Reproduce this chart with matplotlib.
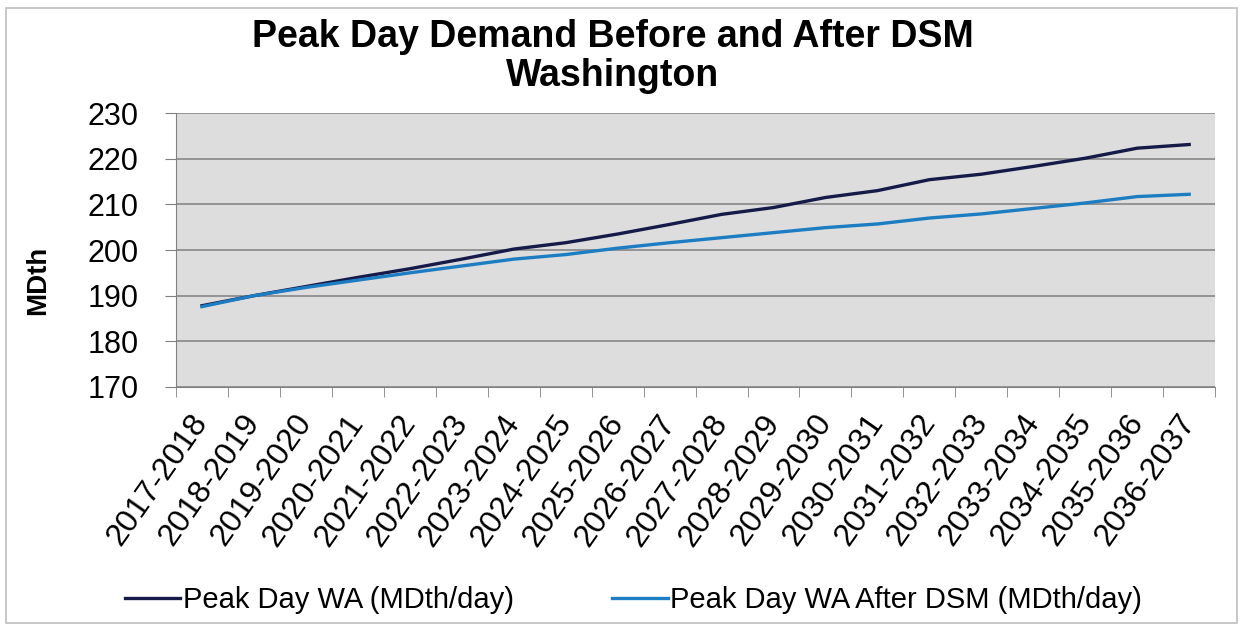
import numpy as np
import matplotlib.pyplot as plt
from matplotlib.patches import Rectangle

plt.rcParams['font.family'] = ['Liberation Sans', 'DejaVu Sans']

years = ['2017-2018', '2018-2019', '2019-2020', '2020-2021', '2021-2022',
         '2022-2023', '2023-2024', '2024-2025', '2025-2026', '2026-2027',
         '2027-2028', '2028-2029', '2029-2030', '2030-2031', '2031-2032',
         '2032-2033', '2033-2034', '2034-2035', '2035-2036', '2036-2037']
peak_wa = [187.8, 190.0, 192.0, 194.0, 195.9, 198.0, 200.2, 201.6, 203.5, 205.6,
           207.8, 209.3, 211.5, 213.0, 215.4, 216.6, 218.3, 220.1, 222.3, 223.1]
peak_wa_dsm = [187.6, 190.0, 191.8, 193.4, 195.0, 196.5, 198.0, 199.0, 200.4, 201.6,
               202.7, 203.8, 204.9, 205.7, 207.0, 207.9, 209.1, 210.3, 211.7, 212.2]

fig = plt.figure(figsize=(12.43, 6.31), dpi=100)
ax = fig.add_axes([0.1416, 0.3867, 0.836, 0.4342])
ax.set_facecolor('#dddddd')

x = np.arange(len(years))
ax.plot(x, peak_wa, color='#161a48', linewidth=2.4, label='Peak Day WA (MDth/day)', zorder=3)
ax.plot(x, peak_wa_dsm, color='#1d7dc2', linewidth=2.4, label='Peak Day WA After DSM (MDth/day)', zorder=3)

ax.set_xlim(-0.5, len(years) - 0.5)
ax.set_ylim(170, 230)
ax.set_yticks(range(170, 231, 10))
ax.yaxis.grid(True, color='#808080', linewidth=1.1)
ax.set_axisbelow(True)

ax.set_xticks(x)
ax.set_xticklabels(years, rotation=55, ha='right', va='center', rotation_mode='anchor', fontsize=23)
ax.set_xticks(np.arange(-0.5, len(years)), minor=True)
ax.tick_params(axis='x', which='major', length=0, pad=22)
ax.tick_params(axis='x', which='minor', length=7, color='#808080', direction='out')
ax.tick_params(axis='y', labelsize=22, length=8, color='#808080', pad=19)

for s in ['top', 'right']:
    ax.spines[s].set_visible(False)
for s in ['left', 'bottom']:
    ax.spines[s].set_color('#808080')

ax.set_ylabel('MDth', fontsize=20, fontweight='bold')
ax.yaxis.set_label_coords(-0.12, 0.39)

fig.text(0.493, 0.942, 'Peak Day Demand Before and After DSM', ha='center', va='center',
         fontsize=27, fontweight='bold')
fig.text(0.493, 0.879, 'Washington', ha='center', va='center', fontsize=27, fontweight='bold')

ax.legend(loc='center', bbox_to_anchor=(0.5097, 0.049), bbox_transform=fig.transFigure,
          ncol=2, frameon=False, fontsize=21, handlelength=1.9, handletextpad=0.1,
          columnspacing=3.36)

fig.patches.append(Rectangle((0.005, 0.012), 0.99, 0.976, transform=fig.transFigure,
                             fill=False, edgecolor='#bfbfbf', linewidth=1.2))

fig.savefig('out.png', dpi=100)
